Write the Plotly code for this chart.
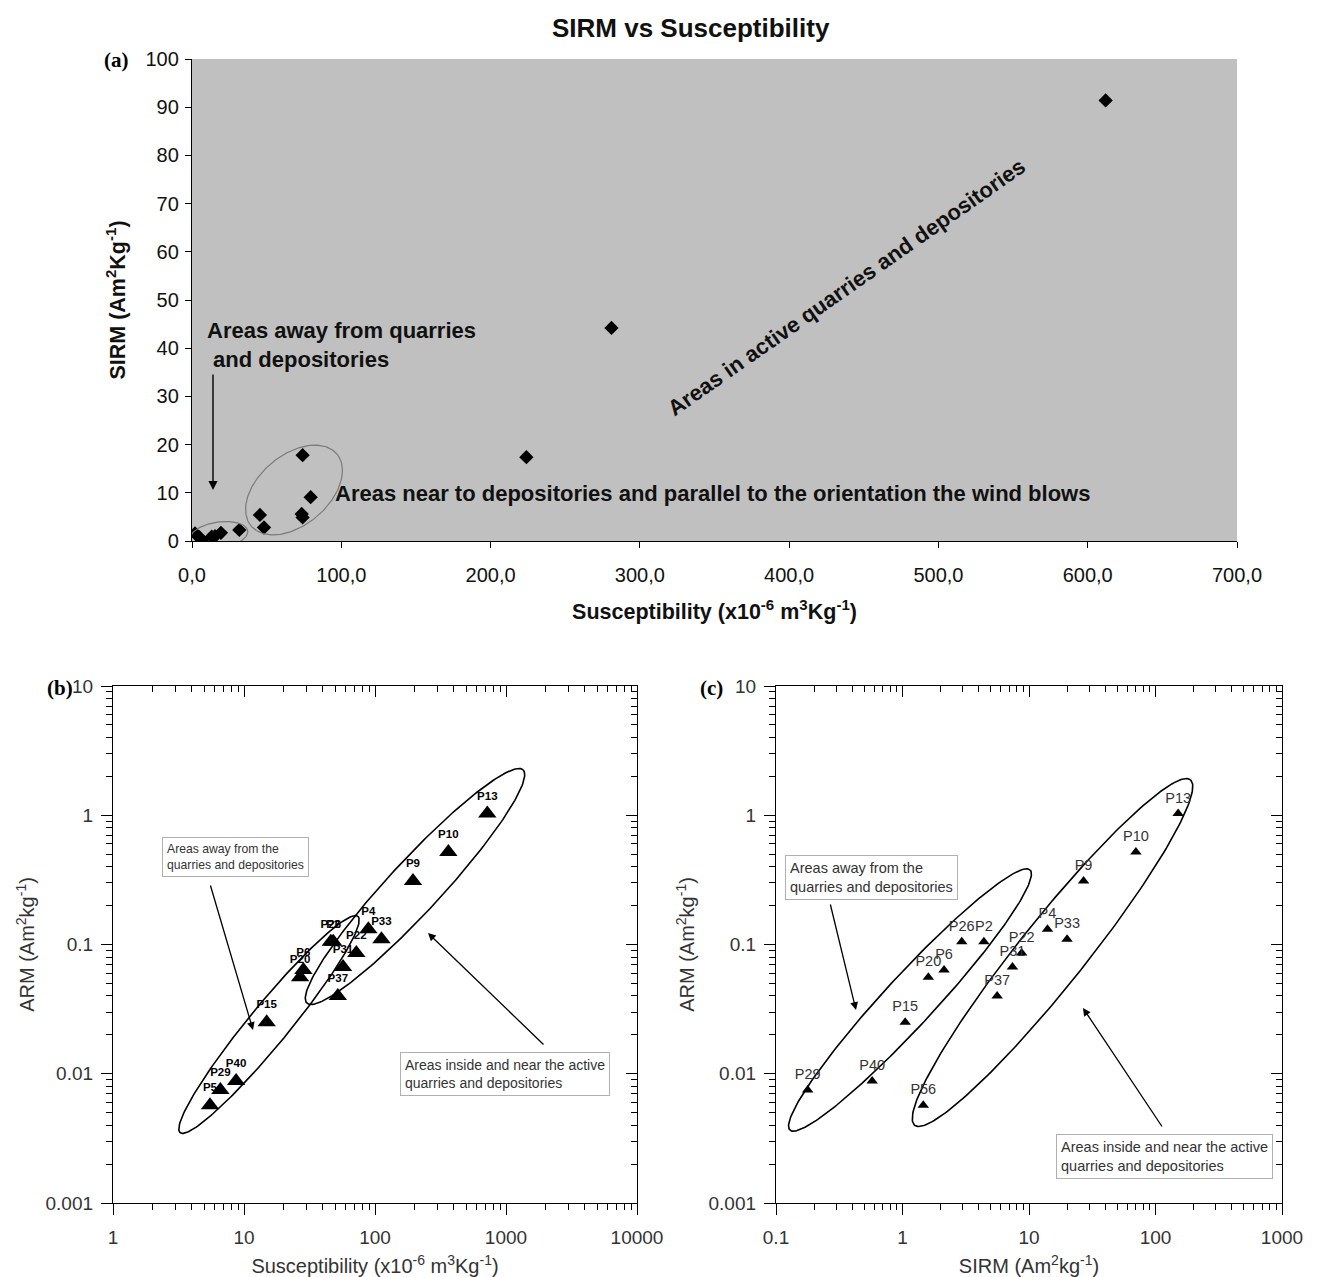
import numpy as np
import plotly.graph_objects as go

# ---------------- data ----------------
# Panel (a): SIRM vs Susceptibility
a_susceptibility = [2.0, 4.9, 6.5, 13.2, 15.4, 19.4, 31.7, 45.5, 48.2, 73.5, 74.1, 74.1, 79.5, 224.0, 281.0, 612.0]
a_sirm = [1.6, 0.8, 0.2, 0.9, 1.0, 1.7, 2.3, 5.4, 2.8, 5.6, 4.9, 17.8, 9.1, 17.4, 44.2, 91.4]
a_xticks = [0, 100, 200, 300, 400, 500, 600, 700]
a_xticklabels = ["0,0", "100,0", "200,0", "300,0", "400,0", "500,0", "600,0", "700,0"]
a_yticks = [0, 10, 20, 30, 40, 50, 60, 70, 80, 90, 100]

# Panels (b) and (c): samples
samples = ["P13", "P10", "P9", "P4", "P33", "P26", "P2", "P22", "P31", "P37", "P6", "P20", "P15", "P40", "P29", "P56"]
b_labels = ["P13", "P10", "P9", "P4", "P33", "P26", "P2", "P22", "P31", "P37", "P6", "P20", "P15", "P40", "P29", "P5"]
susceptibility = [720, 363, 195, 89, 112, 46, 48, 72, 57, 52, 28.4, 26.8, 14.9, 8.7, 6.6, 5.5]
sirm = [151, 70, 27, 14, 20, 2.94, 4.4, 8.75, 7.4, 5.6, 2.13, 1.6, 1.05, 0.576, 0.178, 1.46]
arm = [1.03, 0.52, 0.31, 0.131, 0.110, 0.105, 0.105, 0.086, 0.067, 0.040, 0.0635, 0.0558, 0.0250, 0.0088, 0.0075, 0.0057]

b_xticks = [1, 10, 100, 1000, 10000]
b_xticklabels = ["1", "10", "100", "1000", "10000"]
c_xticks = [0.1, 1, 10, 100, 1000]
c_xticklabels = ["0.1", "1", "10", "100", "1000"]
bc_yticks = [0.001, 0.01, 0.1, 1, 10]
bc_yticklabels = ["0.001", "0.01", "0.1", "1", "10"]

# ---------------- layout geometry (pixels) ----------------
W, H = 1320, 1277
A_L, A_R, A_T, A_B = 192, 1237, 59, 541
B_L, B_R = 113, 637
C_L, C_R = 776, 1282
BC_T, BC_B = 686, 1203

FONT = "Liberation Sans, Arial, sans-serif"
SERIF = "Liberation Serif, Times New Roman, serif"


def dom_x(l, r):
    return [l / W, r / W]


def dom_y(t, b):
    return [1 - b / H, 1 - t / H]


def minor_vals(lo_exp, hi_exp):
    return [k * 10.0 ** e for e in range(lo_exp, hi_exp) for k in range(2, 10)]


# ellipse in pixel space -> data space
def ellipse_px(cx, cy, a, b, theta, n=240):
    t = np.linspace(0, 2 * np.pi, n)
    th = np.deg2rad(theta)
    px = cx + a * np.cos(t) * np.cos(th) - b * np.sin(t) * np.sin(th)
    py = cy - (a * np.cos(t) * np.sin(th) + b * np.sin(t) * np.cos(th))
    return px, py


def to_a(px, py):
    return (px - A_L) / (A_R - A_L) * 700, (A_B - py) / (A_B - A_T) * 100


def to_b(px, py):
    return 10 ** ((px - B_L) / (B_R - B_L) * 4), 10 ** (1 - (py - BC_T) / (BC_B - BC_T) * 4)


def to_c(px, py):
    return 10 ** (-1 + (px - C_L) / (C_R - C_L) * 4), 10 ** (1 - (py - BC_T) / (BC_B - BC_T) * 4)


def lg_b(px, py):
    return (px - B_L) / (B_R - B_L) * 4, 1 - (py - BC_T) / (BC_B - BC_T) * 4


def lg_c(px, py):
    return -1 + (px - C_L) / (C_R - C_L) * 4, 1 - (py - BC_T) / (BC_B - BC_T) * 4


fig = go.Figure()

# panel (a) points
fig.add_trace(go.Scatter(x=a_susceptibility, y=a_sirm, mode="markers",
                         marker=dict(symbol="diamond", size=11, color="black"),
                         xaxis="x", yaxis="y", showlegend=False))

# panel (a) ellipses
for (cx, cy, a, b, th) in [(219, 535, 29, 13, 8), (294, 490, 56, 35, 40)]:
    px, py = ellipse_px(cx, cy, a, b, th)
    ex, ey = to_a(px, py)
    fig.add_trace(go.Scatter(x=ex, y=ey, mode="lines", line=dict(color="#7a7a7a", width=1.2),
                             xaxis="x", yaxis="y", showlegend=False, hoverinfo="skip"))

# panel (b) ellipses
for (cx, cy, a, b, th) in [(269, 1024.5, 140, 20, 50.6), (415, 886.5, 159, 26, 47.2)]:
    px, py = ellipse_px(cx, cy, a, b, th)
    ex, ey = to_b(px, py)
    fig.add_trace(go.Scatter(x=ex, y=ey, mode="lines", line=dict(color="black", width=1.6),
                             xaxis="x2", yaxis="y2", showlegend=False, hoverinfo="skip"))

# panel (c) ellipses
for (cx, cy, a, b, th) in [(910, 1000, 177, 25, 47.3), (1052.5, 952.5, 221, 33, 51.4)]:
    px, py = ellipse_px(cx, cy, a, b, th)
    ex, ey = to_c(px, py)
    fig.add_trace(go.Scatter(x=ex, y=ey, mode="lines", line=dict(color="black", width=1.6),
                             xaxis="x3", yaxis="y3", showlegend=False, hoverinfo="skip"))

# panel (b) points
fig.add_trace(go.Scatter(x=susceptibility, y=arm, mode="markers+text", text=b_labels,
                         textposition="top center",
                         textfont=dict(family=FONT, size=11.5, color="black", weight="bold"),
                         marker=dict(symbol="triangle-up", size=16, color="black"),
                         xaxis="x2", yaxis="y2", showlegend=False))

# panel (c) points
fig.add_trace(go.Scatter(x=sirm, y=arm, mode="markers+text", text=samples,
                         textposition="top center",
                         textfont=dict(family=FONT, size=14.5, color="#333333"),
                         marker=dict(symbol="triangle-up", size=10, color="black"),
                         xaxis="x3", yaxis="y3", showlegend=False))

# dummy traces for mirrored inside-tick axes
for xa, ya in [("x4", "y4"), ("x5", "y5")]:
    fig.add_trace(go.Scatter(x=[], y=[], xaxis=xa, yaxis=ya, showlegend=False, hoverinfo="skip"))

tick_a = dict(family=FONT, size=20, color="#111111")
tick_bc = dict(family=FONT, size=19, color="#333333")

log_common = dict(type="log", showgrid=False, zeroline=False, showline=True, linecolor="black",
                  linewidth=1.3, tickcolor="black", tickwidth=1.3, tickfont=tick_bc, automargin=False)

fig.update_layout(
    width=W, height=H, margin=dict(l=0, r=0, t=0, b=0, autoexpand=False),
    paper_bgcolor="white", plot_bgcolor="white",
    font=dict(family=FONT, color="#222222"),
    showlegend=False,
    xaxis=dict(domain=dom_x(A_L, A_R), anchor="y", range=[0, 700], automargin=False,
               tickmode="array", tickvals=a_xticks, ticktext=a_xticklabels,
               ticks="outside", ticklen=6, tickcolor="black", showline=True, linecolor="black",
               linewidth=1.3, showgrid=False, zeroline=False, tickfont=tick_a, ticklabelstandoff=10,
               title=dict(text="<b>Susceptibility (x10<sup>-6</sup> m<sup>3</sup>Kg<sup>-1</sup>)</b>",
                          font=dict(family=FONT, size=21.5, color="#111111"), standoff=18)),
    yaxis=dict(domain=dom_y(A_T, A_B), anchor="x", range=[0, 100], automargin=False,
               tickmode="array", tickvals=a_yticks,
               ticks="outside", ticklen=6, tickcolor="black", showline=True, linecolor="black",
               linewidth=1.3, showgrid=False, zeroline=False, tickfont=tick_a, ticklabelstandoff=2,
               title=dict(text="<b>SIRM (Am<sup>2</sup>Kg<sup>-1</sup>)</b>",
                          font=dict(family=FONT, size=21.5, color="#111111"), standoff=13)),
    xaxis2=dict(domain=dom_x(B_L, B_R), anchor="y2", range=[0, 4],
                tickmode="array", tickvals=b_xticks, ticktext=b_xticklabels,
                ticks="outside", ticklen=11, ticklabelstandoff=6,
                minor=dict(ticks="outside", ticklen=6, tickvals=minor_vals(0, 4), tickcolor="black", tickwidth=1.2),
                title=dict(text="Susceptibility (x10<sup>-6</sup> m<sup>3</sup>Kg<sup>-1</sup>)",
                           font=dict(family=FONT, size=20, color="#333333"), standoff=14),
                **log_common),
    yaxis2=dict(domain=dom_y(BC_T, BC_B), anchor="x2", range=[-3, 1],
                tickmode="array", tickvals=bc_yticks, ticktext=bc_yticklabels,
                ticks="outside", ticklen=11, ticklabelstandoff=4,
                minor=dict(ticks="outside", ticklen=6, tickvals=minor_vals(-3, 1), tickcolor="black", tickwidth=1.2),
                title=dict(text="ARM (Am<sup>2</sup>kg<sup>-1</sup>)",
                           font=dict(family=FONT, size=20, color="#333333"), standoff=5),
                **log_common),
    xaxis3=dict(domain=dom_x(C_L, C_R), anchor="y3", range=[-1, 3],
                tickmode="array", tickvals=c_xticks, ticktext=c_xticklabels,
                ticks="outside", ticklen=11, ticklabelstandoff=6,
                minor=dict(ticks="outside", ticklen=6, tickvals=minor_vals(-1, 3), tickcolor="black", tickwidth=1.2),
                title=dict(text="SIRM (Am<sup>2</sup>kg<sup>-1</sup>)",
                           font=dict(family=FONT, size=20, color="#333333"), standoff=14),
                **log_common),
    yaxis3=dict(domain=dom_y(BC_T, BC_B), anchor="x3", range=[-3, 1],
                tickmode="array", tickvals=bc_yticks, ticktext=bc_yticklabels,
                ticks="outside", ticklen=11, ticklabelstandoff=4,
                minor=dict(ticks="outside", ticklen=6, tickvals=minor_vals(-3, 1), tickcolor="black", tickwidth=1.2),
                title=dict(text="ARM (Am<sup>2</sup>kg<sup>-1</sup>)",
                           font=dict(family=FONT, size=20, color="#333333"), standoff=8),
                **log_common),
    xaxis4=dict(overlaying="x2", anchor="y2", side="top", range=[0, 4],
                tickmode="array", tickvals=b_xticks, showticklabels=False,
                ticks="inside", ticklen=11,
                minor=dict(ticks="inside", ticklen=6, tickvals=minor_vals(0, 4), tickcolor="black", tickwidth=1.2),
                **log_common),
    yaxis4=dict(overlaying="y2", anchor="x2", side="right", range=[-3, 1],
                tickmode="array", tickvals=bc_yticks, showticklabels=False,
                ticks="inside", ticklen=11,
                minor=dict(ticks="inside", ticklen=6, tickvals=minor_vals(-3, 1), tickcolor="black", tickwidth=1.2),
                **log_common),
    xaxis5=dict(overlaying="x3", anchor="y3", side="top", range=[-1, 3],
                tickmode="array", tickvals=c_xticks, showticklabels=False,
                ticks="inside", ticklen=11,
                minor=dict(ticks="inside", ticklen=6, tickvals=minor_vals(-1, 3), tickcolor="black", tickwidth=1.2),
                **log_common),
    yaxis5=dict(overlaying="y3", anchor="x3", side="right", range=[-3, 1],
                tickmode="array", tickvals=bc_yticks, showticklabels=False,
                ticks="inside", ticklen=11,
                minor=dict(ticks="inside", ticklen=6, tickvals=minor_vals(-3, 1), tickcolor="black", tickwidth=1.2),
                **log_common),
)

# gray background for panel (a)
fig.add_shape(type="rect", xref="x domain", yref="y domain", x0=0, x1=1, y0=0, y1=1,
              fillcolor="#c0c0c0", line=dict(width=0), layer="below")

ann = []
# title
ann.append(dict(text="<b>SIRM vs Susceptibility</b>", xref="paper", yref="paper",
                x=691 / W, y=1 - 28 / H, xanchor="center", yanchor="middle", showarrow=False,
                font=dict(family=FONT, size=26, color="#111111")))
# panel letters
for txt, px, py in [("(a)", 116, 60), ("(b)", 60, 688), ("(c)", 711, 688)]:
    ann.append(dict(text="<b>" + txt + "</b>", xref="paper", yref="paper", x=px / W, y=1 - py / H,
                    xanchor="center", yanchor="middle",
                    showarrow=False, font=dict(family=SERIF, size=21, color="black")))

# panel (a) texts
ax_, ay_ = to_a(205, 345)
ann.append(dict(text="<b>Areas away from quarries<br> and depositories</b>", xref="x", yref="y",
                x=ax_, y=ay_, xanchor="left", yanchor="middle", align="left", showarrow=False,
                font=dict(family=FONT, size=22, color="#111111")))
ax_, ay_ = to_a(333, 493)
ann.append(dict(text="<b>Areas near to depositories and parallel to the orientation the wind blows</b>",
                xref="x", yref="y", x=ax_, y=ay_, xanchor="left", yanchor="middle", showarrow=False,
                font=dict(family=FONT, size=22, color="#111111")))
ax_, ay_ = to_a(846, 287)
ann.append(dict(text="<b>Areas in active quarries and depositories</b>", xref="x", yref="y",
                x=ax_, y=ay_, xanchor="center", yanchor="middle", textangle=-35, showarrow=False,
                font=dict(family=FONT, size=22, color="#111111")))
ax_, ay_ = to_a(213, 490)
ann.append(dict(text="", xref="x", yref="y", x=ax_, y=ay_, ax=0, ay=-117, showarrow=True,
                arrowhead=2, arrowsize=1.3, arrowwidth=1.4, arrowcolor="black"))

# panel (b)/(c) boxes & arrows
for lg, xr, yr, fs, txt, (cx, cy) in [
    (lg_b, "x2", "y2", 12.2, "Areas away from the<br>quarries and depositories", (235, 857)),
    (lg_b, "x2", "y2", 14, "Areas inside and near the active<br>quarries and depositories", (505, 1074)),
    (lg_c, "x3", "y3", 14.5, "Areas away from the<br>quarries and depositories", (871, 877)),
    (lg_c, "x3", "y3", 14.5, "Areas inside and near the active<br>quarries and depositories", (1164, 1156)),
]:
    lx, ly = lg(cx, cy)
    ann.append(dict(text=txt, xref=xr, yref=yr, x=lx, y=ly, xanchor="center", yanchor="middle",
                    showarrow=False, align="left",
                    bordercolor="#b0b0b0", borderwidth=1, borderpad=4, bgcolor="white",
                    font=dict(family=FONT, size=fs, color="#333333")))

for lg, xr, yr, (hx, hy), (tx, ty) in [
    (lg_b, "x2", "y2", (253, 1030), (210, 884)),
    (lg_b, "x2", "y2", (428, 933), (545, 1046)),
    (lg_c, "x3", "y3", (856, 1010), (830, 903)),
    (lg_c, "x3", "y3", (1083, 1008), (1163, 1128)),
]:
    lx, ly = lg(hx, hy)
    ann.append(dict(text="", xref=xr, yref=yr, x=lx, y=ly, ax=tx - hx, ay=ty - hy, showarrow=True,
                    arrowhead=2, arrowsize=1.2, arrowwidth=1.3, arrowcolor="black"))

fig.update_layout(annotations=ann)

fig.write_html("out.html")
